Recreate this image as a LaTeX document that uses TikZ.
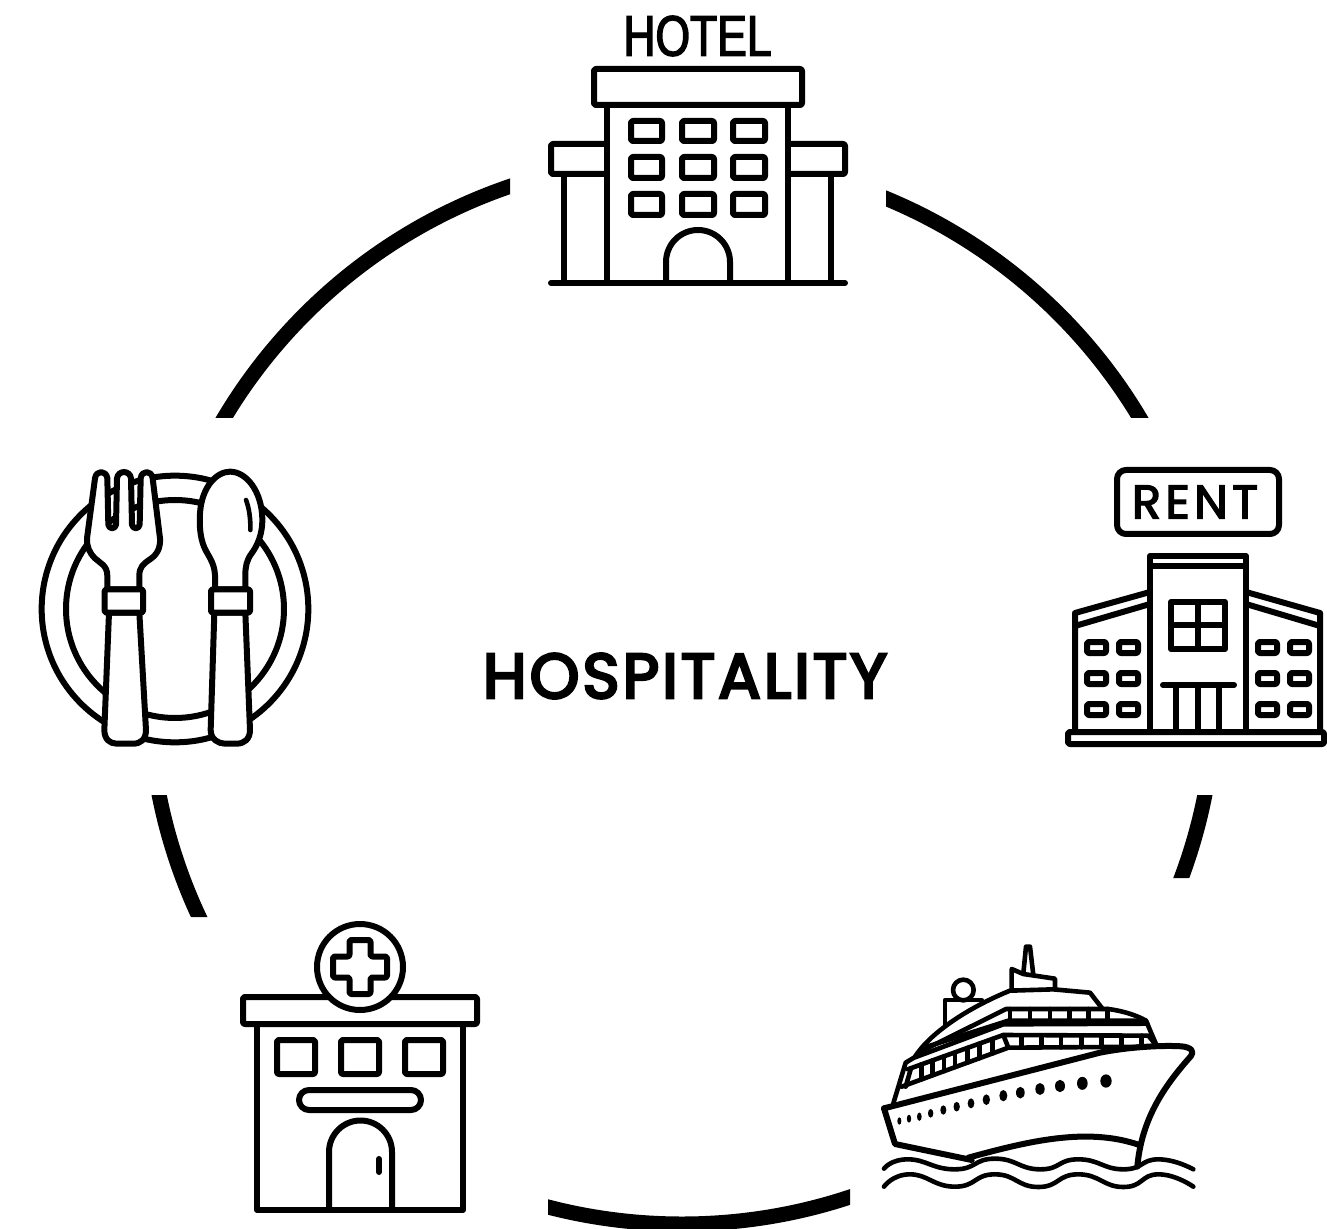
\documentclass[tikz,border=0pt]{standalone}
\usepackage{fontspec}
\setmainfont{Poppins}
\newfontfamily\titlefont{Poppins}[FakeBold=4.5,LetterSpace=5]
\newfontfamily\hotelfont{Liberation Sans}[FakeStretch=0.62,FakeBold=2]
\newfontfamily\rentfont{Poppins}[LetterSpace=9,FakeBold=3]
\tikzset{
  ink/.style={draw=black,line width=3pt,line join=round,line cap=round},
  thin ink/.style={draw=black,line width=2.3pt,line join=round,line cap=round},
  box/.style={ink,fill=white,rounded corners=1pt},
  ring/.style={draw=black,line width=7.5pt}
}
\begin{document}
\begin{tikzpicture}[x=0.5pt,y=-0.5pt]
\useasboundingbox (0,0) rectangle (1327,1229);

% --- ring, in five arcs ---
\begin{scope}
  \clip (200,150) rectangle (510,418)
        (886,150) rectangle (1180,418)
        (1150,795) rectangle (1250,878)
        (548,1150) rectangle (850,1229)
        (120,795) rectangle (230,917);
  \draw[ring] (682,691) circle[radius=533];
\end{scope}

% --- centre title ---
\node (title) at (685,676) {\resizebox{202pt}{!}{\titlefont HOSPITALITY}};

% --- hotel ---
\node[inner sep=0pt] (hotelsign) at (697.5,36) {\resizebox{74pt}{20pt}{\hotelfont HOTEL}};
\draw[ink] (564,174) -- (564,283) (831,174) -- (831,283);
\draw[box] (551,144) rectangle (845,174);
\draw[ink,fill=white] (607,105) rectangle (788,283);
\draw[box] (594,69) rectangle (802,105);
\draw[ink] (551,283) -- (845,283);
\foreach \x/\w in {631/31,682/32,733/32}
  \foreach \y/\h in {121/20,157/21,194/21}
    \draw[box] (\x,\y) rectangle ++(\w,\h);
\draw[ink] (666,283) -- (666,262) arc[start angle=180,end angle=0,x radius=32,y radius=-32] -- (730,283);

% --- rental building ---
\draw[ink,fill=white,rounded corners=4.5pt] (1117,470) rectangle (1279,534);
\node[inner sep=0pt] (rentsign) at (1195,502) {\resizebox{63pt}{16.5pt}{\rentfont RENT}};
\draw[ink] (1075,732) -- (1075,613) -- (1150,592) (1075,626) -- (1150,604);
\draw[ink] (1320,732) -- (1320,613) -- (1246,592) (1320,626) -- (1246,604);
\draw[ink] (1150,732) -- (1150,556) -- (1246,556) -- (1246,732) (1150,566) -- (1246,566);
\draw[ink] (1171,602) rectangle (1225,649) (1198,602) -- (1198,649) (1171,625) -- (1225,625);
\draw[ink] (1163,685) -- (1234,685) (1176,685) -- (1176,732) (1197.5,685) -- (1197.5,732) (1219,685) -- (1219,732);
\foreach \x in {1087,1119,1258,1290}
  \foreach \y in {642,673,704}
    \draw[box] (\x,\y) rectangle ++(19,11);
\draw[box] (1068,732) rectangle (1324,744);

% --- place setting ---
\begin{scope}[shift={(20,450)},scale=1/3]
  \draw[ink] (465,477) circle[radius=400] (465,477) circle[radius=327];
  % fork
  \draw[box,rounded corners=0pt] (267,488) -- (253,840) .. controls (253,868) and (270,881) .. (290,881)
     -- (340,881) .. controls (362,881) and (378,868) .. (378,840) -- (358,488) -- cycle;
  \draw[ink,fill=white] (262,418) -- (262,378) .. controls (262,345) and (240,340) .. (225,325)
     .. controls (208,308) and (200,290) .. (201,265) -- (225,85) .. controls (228,60) and (259,60) .. (262,85)
     -- (265,224) .. controls (266,238) and (287,238) .. (288,224) -- (291,85) .. controls (294,60) and (330,60) .. (333,85)
     -- (336,224) .. controls (337,238) and (358,238) .. (359,224) -- (362,85) .. controls (365,60) and (395,60) .. (398,85)
     -- (420,265) .. controls (422,295) and (410,315) .. (390,328) .. controls (370,342) and (358,350) .. (358,378) -- (358,418) -- cycle;
  \draw[box] (254,418) rectangle (369,488);
  % spoon
  \draw[box,rounded corners=0pt] (583,488) -- (572,840) .. controls (572,868) and (595,881) .. (615,881)
     -- (650,881) .. controls (672,881) and (690,868) .. (690,840) -- (676,488) -- cycle;
  \draw[ink,fill=white] (585,418) -- (585,375) .. controls (583,335) and (562,315) .. (552,290)
     .. controls (540,260) and (538,225) .. (540,190) .. controls (545,110) and (590,65) .. (630,65)
     .. controls (680,65) and (725,125) .. (727,205) .. controls (728,255) and (710,290) .. (695,310)
     .. controls (680,330) and (676,350) .. (676,375) -- (676,418) -- cycle;
  \draw[box] (573,418) rectangle (690,488);
  \draw[thin ink] (678,150) .. controls (688,175) and (692,210) .. (691,240);
\end{scope}

% --- hospital ---
\draw[ink] (257,1024) -- (257,1210) -- (463,1210) -- (463,1024);
\draw[box] (243,997) rectangle (477,1024);
\draw[ink,fill=white] (360,967) circle[radius=43];
\draw[ink,rounded corners=1pt] (349.5,940) -- (370.5,940) -- (370.5,956.5) -- (387,956.5) -- (387,977.5) -- (370.5,977.5)
   -- (370.5,994) -- (349.5,994) -- (349.5,977.5) -- (333,977.5) -- (333,956.5) -- (349.5,956.5) -- cycle;
\foreach \x in {277,341,405}
  \draw[box] (\x,1040) rectangle ++(38,34);
\draw[ink,rounded corners=5pt] (299,1090) rectangle (421,1110);
\draw[ink] (329,1210) -- (329,1152) arc[start angle=180,end angle=0,x radius=31.5,y radius=-31.5] -- (392,1210);
\draw[ink] (379,1159) -- (379,1172);

% --- cruise ship ---
\begin{scope}[shift={(860,930)},scale=1/3]
  % waves
  \draw[thin ink] plot[smooth,tension=0.9] coordinates {(72,716) (145,688) (285,718) (405,686) (540,718) (655,688) (790,718) (895,688) (1000,718)};
  \draw[thin ink] plot[smooth,tension=0.9] coordinates {(72,770) (150,733) (285,770) (405,733) (535,771) (655,733) (790,771) (895,733) (1000,770)};
  % hull
  \draw[ink] (72,535) -- (720,368) .. controls (800,352) and (900,345) .. (965,349)
     .. controls (995,352) and (1003,365) .. (993,378) .. controls (920,460) and (845,560) .. (832,710);
  \draw[ink] (72,535) -- (105,642) -- (335,690);
  \draw[ink] (325,683) .. controls (500,635) and (680,590) .. (838,645);
  % portholes
  \foreach \x/\y/\rx/\ry in {118/573/6/11,147/566/6.5/12,178/560/7/12.5,212/550/8/13,250/540/9/14,290/530/9.5/14.5,333/520/10/15,379/509/11/16,430/497/12/17,481/488/13/17.5,540/477/14/18,600/468/15/18.5,667/460/16/19.5,738/453/17/20}
    \fill[black] (\x,\y) ellipse[x radius=\rx,y radius=\ry];
  % lower band
  \draw[thin ink] (100,520) -- (137,398) -- (170,378);
  \draw[thin ink] (143,418) -- (430,315) -- (865,317) -- (890,347);
  \draw[thin ink] (125,470) -- (445,353) -- (430,315);
  \draw[thin ink] (445,353) -- (885,350);
  \draw[thin ink] (137,470) -- (152,418);
  \foreach \x in {185,218,252,285,322,358,397}
    \draw[thin ink] (\x,{418-0.359*(\x-143)}) -- (\x,{470-0.366*(\x-125)});
  \foreach \x in {485,545,603,665,725,785,845}
    \draw[thin ink] (\x,317) -- (\x,352);
  % upper band
  \draw[thin ink] (175,368) -- (438,237) -- (745,237) .. controls (790,243) and (830,256) .. (858,272) -- (890,347);
  \draw[thin ink] (195,352) -- (445,272) -- (858,272);
  \draw[thin ink] (165,382) -- (430,283) -- (862,281);
  \foreach \x in {450,510,570,628,685,742}
    \draw[thin ink] (\x,237) -- (\x,272);
  % top deck
  \draw[thin ink] (165,380) .. controls (210,310) and (320,235) .. (450,182) -- (580,178) -- (690,188) -- (728,237);
  \draw[thin ink] (255,282) -- (255,210) -- (365,210);
  \draw[thin ink] (310,180) circle[radius=31];
  \draw[thin ink] (455,180) -- (455,117) -- (490,132) -- (585,146) -- (585,178);
  \draw[thin ink] (490,130) -- (498,50) -- (510,50) -- (520,135);
\end{scope}
\end{tikzpicture}
\end{document}
